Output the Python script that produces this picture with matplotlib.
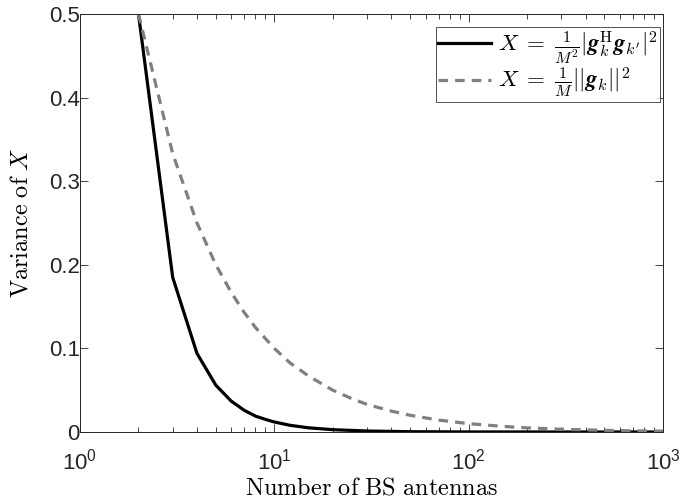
import matplotlib
matplotlib.use('Agg')
import matplotlib.pyplot as plt
from matplotlib.ticker import LogLocator, NullFormatter

# values
m_solid = [2, 3, 4, 5, 6, 7, 8, 9, 10, 12, 15, 20, 30, 50, 100, 1000]
var_solid = [0.5, 0.185, 0.094, 0.056, 0.037, 0.026, 0.019, 0.0151, 0.012,
             0.0081, 0.005, 0.0028, 0.0012, 0.0004, 0.0001, 0.0]

m_dashed = [2, 3, 4, 5, 6, 7, 8, 10, 12, 15, 20, 25, 30, 40, 50, 70,
            100, 150, 200, 300, 500, 700, 1000]
var_dashed = [0.5, 0.333, 0.25, 0.2, 0.167, 0.143, 0.125, 0.1, 0.083, 0.067,
              0.05, 0.04, 0.033, 0.025, 0.02, 0.0143, 0.01, 0.0067, 0.005,
              0.0033, 0.002, 0.0014, 0.001]

label_solid = r'$X\;=\;\frac{1}{M^2}|\mathbfit{g}_k^{\mathrm{H}}\mathbfit{g}_{k^\prime}|^2$'
label_dashed = r'$X\;=\;\frac{1}{M}||\mathbfit{g}_k||^2$'

plt.rcParams['mathtext.fontset'] = 'cm'
plt.rcParams['font.family'] = ['Liberation Sans', 'DejaVu Sans']

fig = plt.figure(figsize=(6.8, 4.98), dpi=100)
ax = fig.add_axes([0.1176, 0.1325, 0.8574, 0.8395])

ax.plot(m_solid, var_solid, color='black', lw=2.3, label=label_solid)
ax.plot(m_dashed, var_dashed, color='#808080', lw=2.3, ls=(0, (3, 2.2)),
        label=label_dashed)

ax.set_xscale('log')
ax.set_xlim(1, 1000)
ax.set_ylim(0, 0.5)
ax.set_yticks([0, 0.1, 0.2, 0.3, 0.4, 0.5])
ax.set_yticklabels(['0', '0.1', '0.2', '0.3', '0.4', '0.5'])
ax.xaxis.set_minor_locator(LogLocator(base=10, subs=range(2, 10)))
ax.xaxis.set_minor_formatter(NullFormatter())

ax.tick_params(which='both', direction='in', top=True, right=True,
               labelsize=16, colors='#262626', width=0.6)
ax.tick_params(which='major', length=6)
ax.tick_params(which='minor', length=3.5)
ax.tick_params(axis='x', pad=12)
ax.tick_params(axis='y', pad=0)
for s in ax.spines.values():
    s.set_color('#262626')
    s.set_linewidth(0.7)

ax.set_xlabel(r'$\mathrm{Number\ of\ BS\ antennas}$', fontsize=17.5, labelpad=2)
ax.set_ylabel(r'$\mathrm{Variance\ of\ }X$', fontsize=17.5, labelpad=12)

leg = ax.legend(loc='upper right', bbox_to_anchor=(0.995, 0.969),
                fontsize=16.5, frameon=True, fancybox=False,
                handlelength=2.3, handletextpad=0.3, borderpad=0.1,
                labelspacing=0.0, borderaxespad=0.0)
leg.get_frame().set_edgecolor('#262626')
leg.get_frame().set_linewidth(0.7)

fig.savefig('out.png', dpi=100)
